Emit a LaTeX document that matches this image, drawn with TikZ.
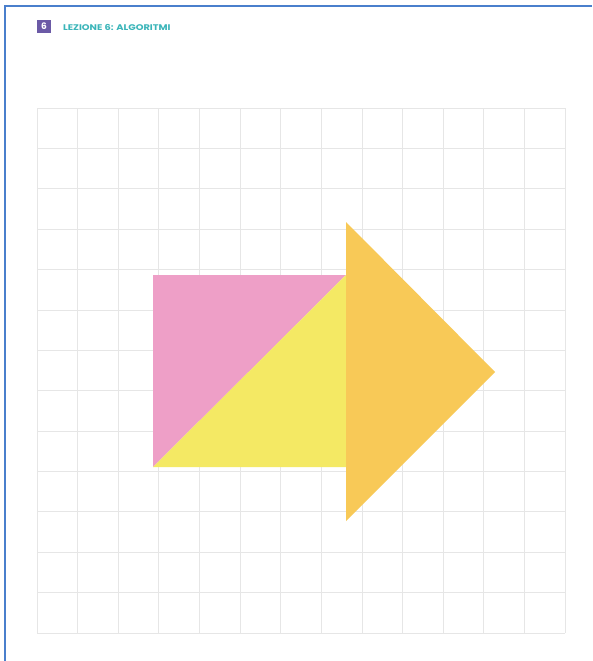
\documentclass[tikz,border=0pt]{standalone}
\usepackage{fontspec}
\usepackage{graphicx}
\setmainfont{Poppins}
\definecolor{framblue}{HTML}{4A7FCC}
\definecolor{gridgray}{HTML}{E6E6E6}
\definecolor{pinkc}{HTML}{EE9FC7}
\definecolor{yellowc}{HTML}{F4E964}
\definecolor{orangec}{HTML}{F8C957}
\definecolor{purplec}{HTML}{6B5AA6}
\definecolor{tealc}{HTML}{3AB5B9}
\begin{document}
\begin{tikzpicture}[x=1pt,y=-1pt,
  gridline/.style={draw=gridgray,line width=0.8pt}]
\useasboundingbox (0,0) rectangle (592,661);
\fill[white] (0,0) rectangle (592,661);
% frame lines (top and left)
\draw[framblue,line width=2pt] (5,661) -- (5,6) -- (592,6);
% header
\fill[purplec] (37,20) rectangle (51,33);
\node[font=\bfseries\fontsize{9}{9}\selectfont,text=white,inner sep=0pt] (num) at (44,26.6) {6};
\node[font=\bfseries\fontsize{8.2}{9}\selectfont,text=tealc,inner sep=0pt,anchor=west] (title) at (63,27) {\scalebox{1.2}[1]{LEZIONE 6: ALGORITMI}};
% grid
\foreach \i in {0,...,13} {
  \draw[gridline] ({37+\i*528/13},108) -- ({37+\i*528/13},633);
  \draw[gridline] (37,{108+\i*525/13}) -- (565,{108+\i*525/13});
}
% shapes
\fill[pinkc] (153,467) -- (153,275) -- (346,275) -- cycle;
\fill[yellowc] (153,467) -- (346,275) -- (346,467) -- cycle;
\fill[orangec] (346,222) -- (495,372) -- (346,521) -- cycle;
\end{tikzpicture}
\end{document}
